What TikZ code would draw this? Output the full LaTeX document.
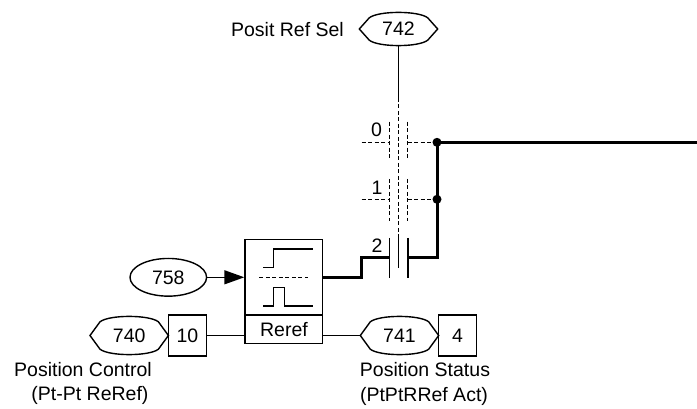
\documentclass[tikz,border=0pt]{standalone}
\usepackage{fontspec}
\setmainfont{Liberation Sans}
\usetikzlibrary{arrows.meta,calc,shapes.geometric}
\newcommand\hexshape[1]{%
  \draw[thinln] (#1.west) -- ($(#1.north west)+(10,5)$)
    .. controls ($(#1.north)+(-20,-2.2)$) and ($(#1.north)+(20,-2.2)$) .. ($(#1.north east)+(-10,5)$)
    -- (#1.east) -- ($(#1.south east)+(-10,-5)$)
    .. controls ($(#1.south)+(20,2.2)$) and ($(#1.south)+(-20,2.2)$) .. ($(#1.south west)+(10,-5)$)
    -- cycle;}
\begin{document}
\begin{tikzpicture}[x=1pt,y=-1pt,
  every node/.style={font=\fontsize{19.5}{22}\selectfont, inner sep=0pt},
  thinln/.style={line width=1.4pt},
  thickwire/.style={line width=3pt, line join=miter},
  dashln/.style={line width=1.4pt, dash pattern=on 4pt off 2.5pt},
  boxnode/.style={draw, line width=1.4pt, minimum width=38.4pt, minimum height=41pt},
  hexnode/.style={minimum width=78pt, minimum height=37pt},
]
\useasboundingbox (0,0) rectangle (697,409);

% top selector
\node[hexnode, minimum height=32pt] (p742) at (398.5,29) {742};
\hexshape{p742}
\node[anchor=east] (lsel) at (344,30) {Posit Ref Sel};

% function block
\node[draw, line width=1.4pt, minimum width=77.7pt, minimum height=104pt] (fb) at (283.85,291.3) {};
\draw[thinln] (245,315) -- (322.7,315);
\node (reref) at (284,329.5) {Reref};
% step icon
\draw[thinln] (263.3,267.7) -- (273.3,267.7) -- (273.3,249) -- (313.3,249);
\draw[dashln] (259.3,277.3) -- (308.3,277.3);
\draw[thinln] (263.3,306) -- (273.3,306) -- (273.3,287.3) -- (284.3,287.3) -- (284.3,306) -- (313.3,306);

% input 758
\node[draw, ellipse, line width=1.4pt, minimum width=76.6pt, minimum height=37.7pt] (p758) at (168.3,277.3) {758};
\draw[thinln, -{Triangle[length=20pt,width=14pt]}] (p758.east) -- (p758 -| fb.west);

% 740 / 10
\node[hexnode] (p740) at (129.2,335.5) {740};
\hexshape{p740}
\node[boxnode] (b10) at (187.5,335.5) {10};
\draw[thinln] (b10.east) -- (b10.east -| fb.west);
\node (lpc1) at (83,370) {Position Control};
\node (lpc2) at (90,395) {(Pt-Pt ReRef)};

% 741 / 4
\node[hexnode] (p741) at (399.5,335.5) {741};
\hexshape{p741}
\node[boxnode] (b4) at (457.5,335.5) {4};
\draw[thinln] (p741.west -| fb.east) -- (p741.west);
\node (lps1) at (425,370) {Position Status};
\node (lps2) at (424,396) {(PtPtRRef Act)};

% selector switch
\coordinate (v1) at (398.5,98);
\coordinate (v2) at (398.5,235);
\coordinate (v3) at (398.5,268);
\draw[thinln] (p742.south) -- (v1);
\draw[dashln] (v1) -- (v2);
\draw[thinln] (v2) -- (v3);

% contact 0
\draw[dashln] (389.3,121.7) -- (389.3,158.3);
\draw[dashln] (407.7,121.7) -- (407.7,158.3);
\draw[dashln] (361.7,142.3) -- (389.3,142.3);
\draw[dashln] (407.7,142.3) -- (437,142.3);
\node (n0) at (376.5,129.5) {0};
% contact 1
\draw[dashln] (389.3,179) -- (389.3,220.7);
\draw[dashln] (407.7,179) -- (407.7,220.7);
\draw[dashln] (361.7,199.3) -- (389.3,199.3);
\draw[dashln] (407.7,199.3) -- (437,199.3);
\node (n1) at (377,187.5) {1};
% contact 2
\draw[line width=1.6pt] (389.3,238) -- (389.3,278);
\draw[line width=1.6pt] (407.7,238) -- (407.7,278);
\node (n2) at (377,245.5) {2};

% thick wires
\coordinate (fbout) at (322.7,277.7);
\draw[thickwire] (fbout) -- (361,277.7) -- (361,257.7) -- (389.3,257.7);
\coordinate (outend) at (697,142.3);
\draw[thickwire] (407.7,257.7) -- (437,257.7) -- (437,142.3) -- (outend);
\fill (437,142.3) circle (4.5);
\fill (437,199.3) circle (4.5);
\end{tikzpicture}
\end{document}
